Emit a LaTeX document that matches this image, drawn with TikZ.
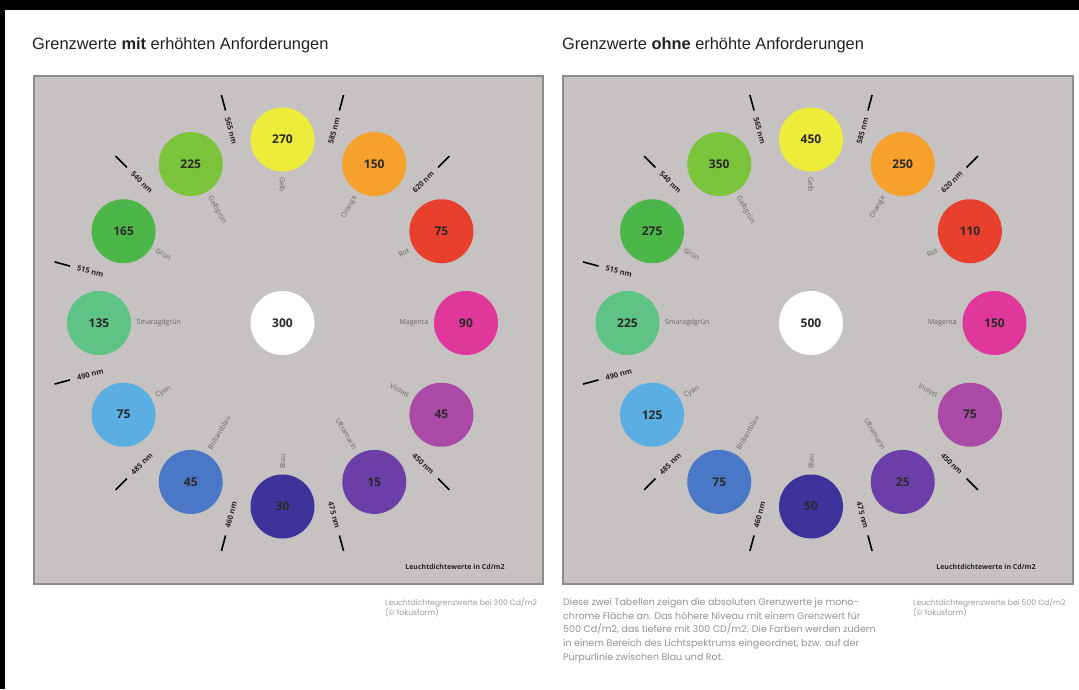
\documentclass[tikz,border=0pt]{standalone}
\usepackage{fontspec}
\setmainfont{Liberation Sans}
\newfontfamily\osans{Open Sans}
\newfontfamily\pop{Poppins}
\usetikzlibrary{calc}
\definecolor{c0}{HTML}{EEEC3A}
\definecolor{c1}{HTML}{F6A12B}
\definecolor{c2}{HTML}{E8402C}
\definecolor{c3}{HTML}{E0379B}
\definecolor{c4}{HTML}{AB4AA6}
\definecolor{c5}{HTML}{6B3FA7}
\definecolor{c6}{HTML}{3E339B}
\definecolor{c7}{HTML}{4A78C6}
\definecolor{c8}{HTML}{5AAEE2}
\definecolor{c9}{HTML}{5FC386}
\definecolor{c10}{HTML}{4DB648}
\definecolor{c11}{HTML}{7BC33B}
\definecolor{panelgray}{HTML}{C5C2C1}
\definecolor{panelborder}{HTML}{8E8B89}
\definecolor{numtext}{HTML}{2A2A2A}
\definecolor{namegray}{HTML}{666666}
\definecolor{capgray}{HTML}{9A9A9A}
\definecolor{titletext}{HTML}{222222}
\newcommand\drawring[4]{%
  \coordinate (#1C) at (#2,366);
  \node[blob, fill=white] (#1W) at (#1C) {#4};
  \foreach \val [count=\i from 0] in {#3}{
    \pgfmathsetmacro\ang{90-30*\i}
    \path (#1C) ++(\ang:183.5) node[blob, fill=c\i] (#1\i) {\val};
  }
  \foreach \ang/\lab/\rot in {75/585/75, 45/620/45, -45/450/-45, -75/475/-75, 255/460/75, 225/485/45, 195/490/15, 165/515/-15, 135/540/-45, 105/565/-75}{
    \draw[tickmark] ($(#1C)+(\ang:220)$) -- ($(#1C)+(\ang:236)$);
    \path (#1C) ++(\ang:199) node[nmlab, rotate=\rot] {\lab~nm};
  }
  \foreach \ang/\lab/\rot/\anc in {90/Gelb/-90/west, 60/Orange/60/east, 30/Rot/30/east, 0/Magenta/0/east, -30/Violett/-30/east, -60/Ultramarin/-60/east, 270/Blau/90/west, 240/Brillantblau/60/west, 210/Cyan/30/west, 180/Smaragdgrün/0/west, 150/Grün/-30/west, 120/Gelbgrün/-60/west}{
    \path (#1C) ++(\ang:146) node[namelab, rotate=\rot, anchor=\anc] {\lab};
  }
}
\begin{document}
\begin{tikzpicture}[x=1pt,y=1pt,
  panel/.style={draw=panelborder, line width=1.3pt, fill=panelgray},
  blob/.style={circle, minimum size=64pt, inner sep=0pt, font=\osans\bfseries\fontsize{12}{12}\selectfont, text=numtext},
  tickmark/.style={line width=1.6pt, draw=black},
  nmlab/.style={font=\osans\bfseries\fontsize{7.5}{8}\selectfont, inner sep=0pt, text=black!85},
  namelab/.style={font=\osans\fontsize{7}{7}\selectfont, inner sep=0pt, text=namegray},
  legendtext/.style={font=\osans\bfseries\fontsize{7}{8}\selectfont, inner sep=0pt, text=black!85},
  titletextstyle/.style={font=\fontsize{16.4}{18}\selectfont, inner sep=0pt, anchor=base west, text=titletext},
  captext/.style={font=\pop\fontsize{7.7}{10}\selectfont, inner sep=0pt, anchor=north west, align=left, text=capgray},
  paratext/.style={font=\pop\fontsize{9.5}{13.7}\selectfont, inner sep=0pt, anchor=north west, align=left, text=capgray!95!black}]
\useasboundingbox (0,0) rectangle (1079,689);
\fill[white] (0,0) rectangle (1079,689);
\fill[black] (0,679) rectangle (1079,689);
\fill[black] (0,0) rectangle (5,689);
% titles
\node[titletextstyle] (titleL) at (32,639) {Grenzwerte \textbf{mit} erhöhten Anforderungen};
\node[titletextstyle] (titleR) at (562,639) {Grenzwerte \textbf{ohne} erhöhte Anforderungen};
% panels
\draw[panel] (34,105) rectangle (543,613);
\draw[panel] (563,105) rectangle (1073,613);
% rings
\drawring{L}{282.5}{270,150,75,90,45,15,30,45,75,135,165,225}{300}
\drawring{R}{811}{450,250,110,150,75,25,50,75,125,225,275,350}{500}
\node[legendtext] (legL) at (455,122) {Leuchtdichtewerte in Cd/m2};
\node[legendtext] (legR) at (986,122) {Leuchtdichtewerte in Cd/m2};
% captions
\node[captext] (capL) at (385,91) {Leuchtdichtegrenzwerte bei 300 Cd/m2\\(© fokusform)};
\node[captext] (capR) at (913,91) {Leuchtdichtegrenzwerte bei 500 Cd/m2\\(© fokusform)};
\node[paratext] (para) at (563,91) {Diese zwei Tabellen zeigen die absoluten Grenzwerte je mono-\\
chrome Fläche an. Das höhere Niveau mit einem Grenzwert für\\
500 Cd/m2, das tiefere mit 300 CD/m2. Die Farben werden zudem\\
in einem Bereich des Lichtspektrums eingeordnet, bzw. auf der\\
Purpurlinie zwischen Blau und Rot.};
\end{tikzpicture}
\end{document}
